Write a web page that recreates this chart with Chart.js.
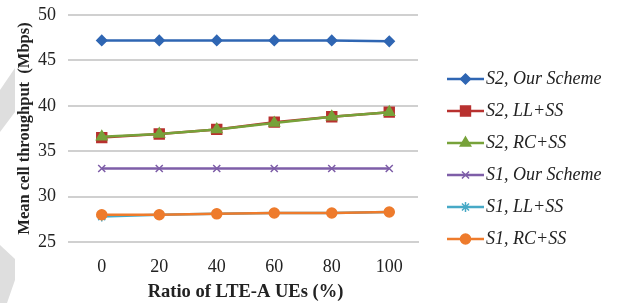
<!DOCTYPE html>
<html>
<head>
<meta charset="utf-8">
<script src="https://cdn.jsdelivr.net/npm/chart.js@4"></script>
<style>
    html, body { margin: 0; padding: 0; background: #ffffff; }
    #wrap { width: 631px; height: 303px; position: relative; }
</style>
</head>
<body>
<div id="wrap"><canvas id="chart" width="631" height="303"></canvas></div>
<script>
// Ratio of LTE-A UEs (%)
const categories = ['0', '20', '40', '60', '80', '100'];

// Mean cell throughput (Mbps) per scheme
const s2Ours = [47.2, 47.2, 47.2, 47.2, 47.2, 47.1];
const s2LL = [36.5, 36.9, 37.4, 38.2, 38.8, 39.3];
const s2RC = [36.6, 36.9, 37.4, 38.1, 38.8, 39.3];
const s1Ours = [33.1, 33.1, 33.1, 33.1, 33.1, 33.1];
const s1LL = [27.8, 28.0, 28.1, 28.2, 28.2, 28.3];
const s1RC = [28.0, 28.0, 28.1, 28.2, 28.2, 28.3];

const yTicks = [25, 30, 35, 40, 45, 50];

const serif = '"Liberation Serif", "DejaVu Serif", serif';

function series(label, data, color, style, radius, order) {
    return {
        label: label,
        data: data,
        order: order,
        borderColor: color,
        backgroundColor: color,
        pointBorderColor: color,
        pointBackgroundColor: color,
        pointStyle: style,
        pointRadius: radius,
        pointBorderWidth: 1.5,
        borderWidth: 2.5,
        tension: 0,
    };
}

// lower order is painted on top: the RC lines sit over the LL lines
const datasets = [
    series('S2, Our Scheme', s2Ours, '#2f66b3', 'rectRot', 5, 0),
    series('S2, LL+SS', s2LL, '#b8312f', 'rect', 7, 2),
    series('S2, RC+SS', s2RC, '#77a23a', 'triangle', 6, 1),
    series('S1, Our Scheme', s1Ours, '#7e5ea8', 'crossRot', 5, 3),
    series('S1, LL+SS', s1LL, '#47a9c6', 'star', 5, 5),
    series('S1, RC+SS', s1RC, '#ee7b2c', 'circle', 5, 4),
];

// faint grey watermark shapes at the left edge of the scanned figure
const watermark = {
    id: 'watermark',
    beforeDraw(chart) {
        const ctx = chart.ctx;
        ctx.save();
        ctx.fillStyle = '#dedede';
        ctx.beginPath();
        ctx.moveTo(15, 68);
        ctx.lineTo(15, 112);
        ctx.lineTo(0, 132);
        ctx.lineTo(0, 90);
        ctx.closePath();
        ctx.fill();
        ctx.beginPath();
        ctx.moveTo(0, 245);
        ctx.lineTo(15, 259);
        ctx.lineTo(15, 280);
        ctx.lineTo(7, 303);
        ctx.lineTo(0, 303);
        ctx.closePath();
        ctx.fill();
        ctx.restore();
    }
};

// legend drawn by hand: short line with a marker in the middle, italic text
const sideLegend = {
    id: 'sideLegend',
    afterDraw(chart) {
        const ctx = chart.ctx;
        const x0 = 447, x1 = 484, top = 79, step = 32;
        ctx.save();
        ctx.font = 'italic 18px ' + serif;
        ctx.textBaseline = 'middle';
        chart.data.datasets.forEach((ds, i) => {
            const y = top + i * step;
            ctx.strokeStyle = ds.borderColor;
            ctx.lineWidth = 2.5;
            ctx.beginPath();
            ctx.moveTo(x0, y);
            ctx.lineTo(x1, y);
            ctx.stroke();
            ctx.fillStyle = ds.pointBackgroundColor;
            ctx.strokeStyle = ds.pointBorderColor;
            ctx.lineWidth = 1.5;
            Chart.helpers.drawPoint(ctx, {
                pointStyle: ds.pointStyle,
                radius: ds.pointRadius,
                rotation: 0,
                borderWidth: 1.5,
            }, (x0 + x1) / 2, y);
            ctx.fillStyle = '#222222';
            ctx.fillText(ds.label, x1 + 2, y);
        });
        ctx.restore();
    }
};

new Chart(document.getElementById('chart'), {
    type: 'line',
    data: { labels: categories, datasets: datasets },
    options: {
        responsive: false,
        animation: false,
        layout: { padding: { top: 0, right: 213, left: 0, bottom: 0 } },
        plugins: { legend: { display: false }, tooltip: { enabled: false } },
        scales: {
            x: {
                offset: true,
                grid: { display: false, drawTicks: false },
                border: { display: true, color: '#d0d0d0', width: 2 },
                ticks: { color: '#222222', font: { family: serif, size: 18 }, padding: 14 },
                title: {
                    display: true,
                    text: 'Ratio of LTE-A UEs (%)',
                    color: '#222222',
                    font: { family: serif, size: 18.5, weight: 'bold' },
                    padding: { top: -3, bottom: 0 },
                },
                afterFit(scale) { scale.height = 61; },
            },
            y: {
                min: 25,
                max: 50,
                afterBuildTicks(scale) { scale.ticks = yTicks.map(v => ({ value: v })); },
                grid: { color: '#d0d0d0', lineWidth: 2, tickLength: 5 },
                border: { display: false },
                ticks: { color: '#222222', font: { family: serif, size: 18 }, padding: 12 },
                title: {
                    display: true,
                    text: 'Mean cell throughput  (Mbps)',
                    color: '#222222',
                    font: { family: serif, size: 16.5, weight: 'bold' },
                    padding: { top: 15, bottom: 0 },
                },
                afterFit(scale) {
                    scale.width = 73;
                    scale.paddingTop = 15;
                },
            },
        },
    },
    plugins: [watermark, sideLegend],
});
</script>
</body>
</html>
